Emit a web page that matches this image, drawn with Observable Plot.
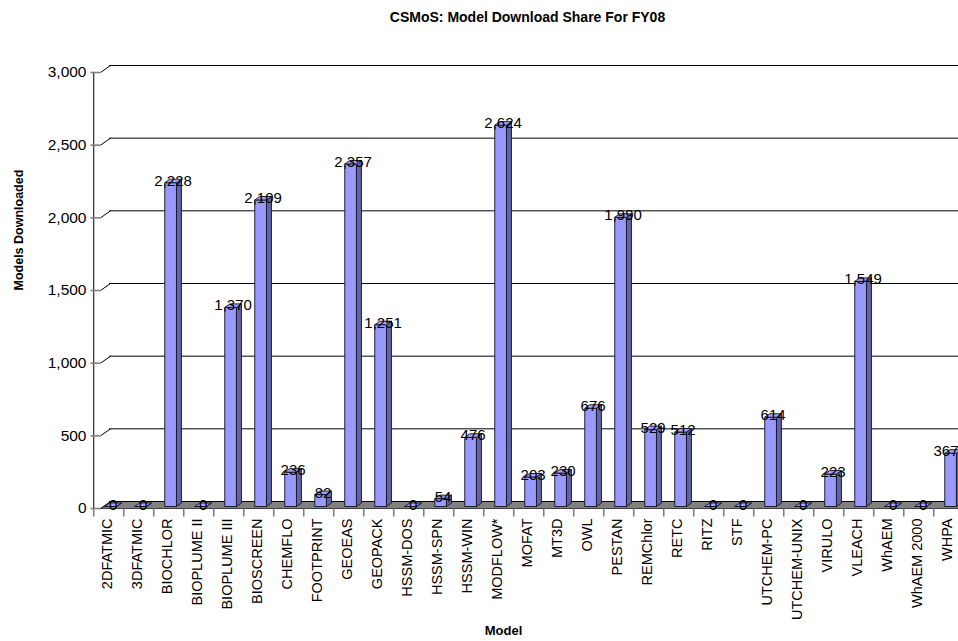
<!DOCTYPE html>
<html>
<head>
<meta charset="utf-8">
<script src="https://cdn.jsdelivr.net/npm/d3@7"></script>
<script src="https://cdn.jsdelivr.net/npm/@observablehq/plot@0.6"></script>
<style>
  html, body { margin: 0; padding: 0; background: #fff; overflow: hidden; }
  #chart svg { display: block; }
</style>
</head>
<body>
<div id="chart"></div>
<script>
const models = ["2DFATMIC","3DFATMIC","BIOCHLOR","BIOPLUME II","BIOPLUME III","BIOSCREEN","CHEMFLO","FOOTPRINT","GEOEAS","GEOPACK","HSSM-DOS","HSSM-SPN","HSSM-WIN","MODFLOW*","MOFAT","MT3D","OWL","PESTAN","REMChlor","RETC","RITZ","STF","UTCHEM-PC","UTCHEM-UNIX","VIRULO","VLEACH","WhAEM","WhAEM 2000","WHPA"];
const downloads = [0,0,2228,0,1370,2109,236,82,2357,1251,0,54,476,2624,203,230,676,1990,529,512,0,0,614,0,223,1549,0,0,367];
const yTicks = [0,500,1000,1500,2000,2500,3000];
const title = "CSMoS: Model Download Share For FY08";
const xTitle = "Model";
const yTitle = "Models Downloaded";

const data = models.map((m, i) => ({model: m, value: downloads[i]}));
const lastModel = models[models.length - 1];

const W = 958, H = 641;
const mL = 99, mR = 3, mT = 72, mB = 133;
const bw = (W - mL - mR) / models.length;
const font = "'Liberation Sans', Arial, sans-serif";

// 3D column geometry (pixels, relative to band centre)
const fl = -2.75, fr = 8.95, ddx = 5, ddy = -3.5;

function faceCurve(kind) {
  return (ctx) => {
    let pts = [];
    return {
      areaStart() {}, areaEnd() {},
      lineStart() { pts = []; },
      point(x, y) { pts.push([x, y]); },
      lineEnd() {
        const [[x, y0], [, y1]] = pts;
        let p;
        if (kind === "front") p = [[x+fl,y0],[x+fl,y1],[x+fr,y1],[x+fr,y0]];
        else if (kind === "side") p = [[x+fr,y0],[x+fr,y1],[x+fr+ddx,y1+ddy],[x+fr+ddx,y0+ddy]];
        else p = [[x+fl,y1],[x+fr,y1],[x+fr+ddx,y1+ddy],[x+fl+ddx,y1+ddy]];
        ctx.moveTo(p[0][0], p[0][1]);
        for (let k = 1; k < p.length; ++k) ctx.lineTo(p[k][0], p[k][1]);
        ctx.closePath();
      }
    };
  };
}

const diagSymbol = {draw(ctx) { ctx.moveTo(1, 0); ctx.lineTo(11, -7); }};
const floorCorner = {draw(ctx) { ctx.moveTo(1, 0); ctx.lineTo(11, -7); ctx.lineTo(11, 0); ctx.closePath(); }};
const yTickSymbol = {draw(ctx) { ctx.moveTo(-9, 0); ctx.lineTo(1, 0); }};
const xTickSymbol = {draw(ctx) { ctx.moveTo(0, 0); ctx.lineTo(0, 8); }};

const barLink = (kind, fill) => Plot.link(data, {
  x1: "model", x2: "model", y1: () => 0, y2: "value",
  curve: faceCurve(kind), fill, stroke: "#111", strokeWidth: 0.9, dy: -2
});

const chart = Plot.plot({
  width: W, height: H,
  marginLeft: mL, marginRight: mR, marginTop: mT, marginBottom: mB,
  style: {fontFamily: font, color: "#000", background: "#fff"},
  x: {domain: models, padding: 0, axis: null},
  y: {domain: [0, 3000], axis: null},
  marks: [
    // floor
    Plot.ruleY([0], {stroke: "#808080", strokeWidth: 7, dx: 10, dy: -3.5, insetRight: -20}),
    Plot.dot([0], {y: d => d, frameAnchor: "left", symbol: floorCorner, r: 1, fill: "#808080", stroke: "none"}),
    Plot.ruleY([0], {stroke: "#404040", strokeWidth: 1, insetRight: -10}),
    // back-wall gridlines with 3D connectors
    Plot.ruleY(yTicks, {stroke: "#000", strokeWidth: 1, dx: 10, dy: -7, insetRight: -20}),
    Plot.dot(yTicks, {y: d => d, frameAnchor: "left", symbol: diagSymbol, r: 1, fill: "none", stroke: "#000", strokeWidth: 1}),
    // y axis line
    Plot.link([models[0]], {x1: d => d, x2: d => d, y1: () => 0, y2: () => 3000, dx: -bw / 2 + 1, stroke: "#000", strokeWidth: 1}),
    // y ticks + labels
    Plot.dot(yTicks, {y: d => d, frameAnchor: "left", symbol: yTickSymbol, r: 1, fill: "none", stroke: "#808080", strokeWidth: 1.6}),
    Plot.text(yTicks, {y: d => d, frameAnchor: "left", text: d => d3.format(",")(d), textAnchor: "end", dx: -13, fontSize: 15.5}),
    // x ticks at band boundaries
    Plot.dot(models, {x: d => d, y: () => 0, symbol: xTickSymbol, r: 1, fill: "none", stroke: "#808080", strokeWidth: 1.6, dx: -bw / 2 + 1}),
    Plot.dot([lastModel], {x: d => d, y: () => 0, symbol: xTickSymbol, r: 1, fill: "none", stroke: "#808080", strokeWidth: 1.6, dx: bw / 2}),
    Plot.text(models, {x: d => d, frameAnchor: "bottom", text: d => d, rotate: -90, textAnchor: "end", lineAnchor: "middle", dy: 10, fontSize: 14.5}),
    // 3D columns
    barLink("side", "#6262B2"),
    barLink("front", "#9999FF"),
    barLink("top", "#A3A3FF"),
    // value labels
    Plot.text(data.filter(d => d.model !== lastModel), {x: "model", y: "value", text: d => d3.format(",")(d.value), lineAnchor: "bottom", dx: 5.6, dy: 1, fontSize: 15}),
    Plot.text(data.filter(d => d.model === lastModel), {x: "model", y: "value", text: d => d3.format(",")(d.value), lineAnchor: "bottom", textAnchor: "end", dx: 11, dy: 1, fontSize: 15}),
    // titles
    Plot.text([title], {frameAnchor: "top", text: d => d, dy: -55, fontWeight: "bold", fontSize: 14, lineAnchor: "middle"}),
    Plot.text([yTitle], {frameAnchor: "left", text: d => d, rotate: -90, dx: -81, fontWeight: "bold", fontSize: 12.5, lineAnchor: "middle"}),
    Plot.text([xTitle], {frameAnchor: "bottom", text: d => d, dx: -24, dy: 122, fontWeight: "bold", fontSize: 13, lineAnchor: "middle"})
  ]
});
document.getElementById("chart").appendChild(chart);
</script>
</body>
</html>
